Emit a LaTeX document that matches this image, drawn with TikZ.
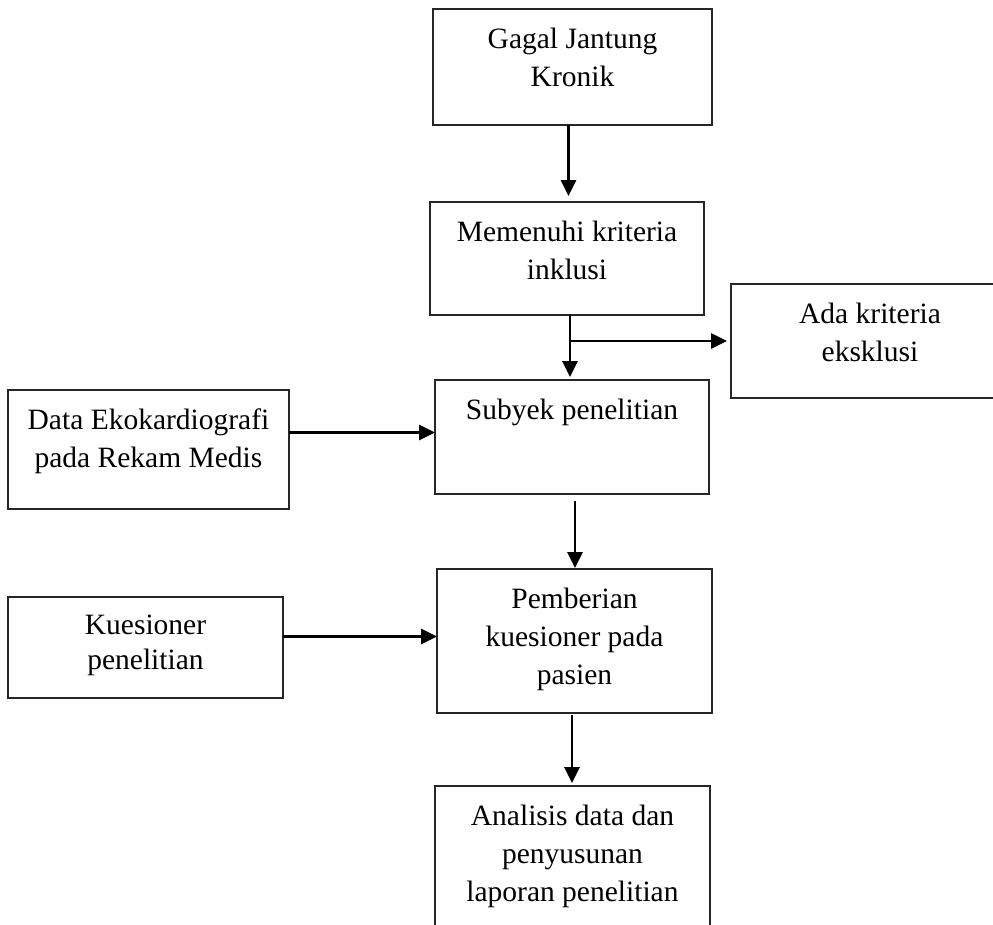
\documentclass[tikz,border=0pt]{standalone}
\usepackage{fontspec}
\setmainfont{Liberation Serif}
\usetikzlibrary{arrows.meta}
\newcommand\myTopStrut{\rule{0pt}{22pt}}
\begin{document}
\begin{tikzpicture}[x=1pt,y=-1pt,
  box/.style={draw=black!85, line width=1.2pt, rectangle, inner sep=0pt, outer sep=0pt, anchor=north west},
  txt/.style={anchor=north, inner sep=0pt, align=center, font=\fontsize{29.5}{38}\selectfont},
  arr/.style={line width=2.9pt, -{Triangle[width=15pt,length=16pt]}}]
\useasboundingbox (0,0) rectangle (993,924);
\clip (0,0) rectangle (993,924);
% boxes
\node[box, minimum width=279pt, minimum height=116pt] (b1) at (433,9) {};
\node[box, minimum width=274pt, minimum height=113pt] (b2) at (430,202) {};
\node[box, minimum width=278pt, minimum height=114pt] (rb) at (731,284) {};
\node[box, minimum width=274pt, minimum height=114pt] (b3) at (435,380) {};
\node[box, minimum width=281pt, minimum height=119pt] (data) at (8,390) {};
\node[box, minimum width=275pt, minimum height=144pt] (b4) at (437,569) {};
\node[box, minimum width=275pt, minimum height=101pt] (kue) at (8,597) {};
\node[box, minimum width=275pt, minimum height=160pt] (b5) at (435,786) {};
% texts
\node[txt] (t1) at ([yshift=-17pt]b1.north) {\myTopStrut Gagal Jantung\\Kronik};
\node[txt] (t2) at ([yshift=-17pt]b2.north) {\myTopStrut Memenuhi kriteria\\inklusi};
\node[txt] (trb) at ([yshift=-17pt]rb.north) {\myTopStrut Ada kriteria\\eksklusi};
\node[txt] (t3) at ([yshift=-17pt]b3.north) {\myTopStrut Subyek penelitian};
\node[txt] (tdata) at ([yshift=-17pt]data.north) {\myTopStrut Data Ekokardiografi\\pada Rekam Medis};
\node[txt] (t4) at ([yshift=-17pt]b4.north) {\myTopStrut Pemberian\\kuesioner pada\\pasien};
\node[txt, font=\fontsize{29.5}{35}\selectfont] (tkue) at ([yshift=-15pt]kue.north) {\myTopStrut Kuesioner\\penelitian};
\node[txt] (t5) at ([yshift=-17pt]b5.north) {\myTopStrut Analisis data dan\\penyusunan\\laporan penelitian};
% connectors
\draw[arr, shorten >=6pt] ([xshift=-4pt]b1.south) -- ([xshift=-4pt]b1.south |- b2.north);
\coordinate (j) at ([xshift=3pt,yshift=-26pt]b2.south);
\draw[arr, shorten >=3pt] ([xshift=3pt]b2.south) -- ([xshift=3pt]b2.south |- b3.north);
\draw[arr, shorten >=4pt] ([xshift=-1.45pt]j) -- (j -| rb.west);
\draw[arr] ([yshift=17pt]data.east) -- ([yshift=17pt]data.east -| b3.west);
\draw[arr, shorten <=7pt, shorten >=1pt] ([xshift=3pt]b3.south) -- ([xshift=3pt]b3.south |- b4.north);
\draw[arr] ([yshift=11pt]kue.east) -- ([yshift=11pt]kue.east -| b4.west);
\draw[arr, shorten <=2pt, shorten >=3pt] ([xshift=-2.5pt]b4.south) -- ([xshift=-2.5pt]b4.south |- b5.north);
\end{tikzpicture}
\end{document}
